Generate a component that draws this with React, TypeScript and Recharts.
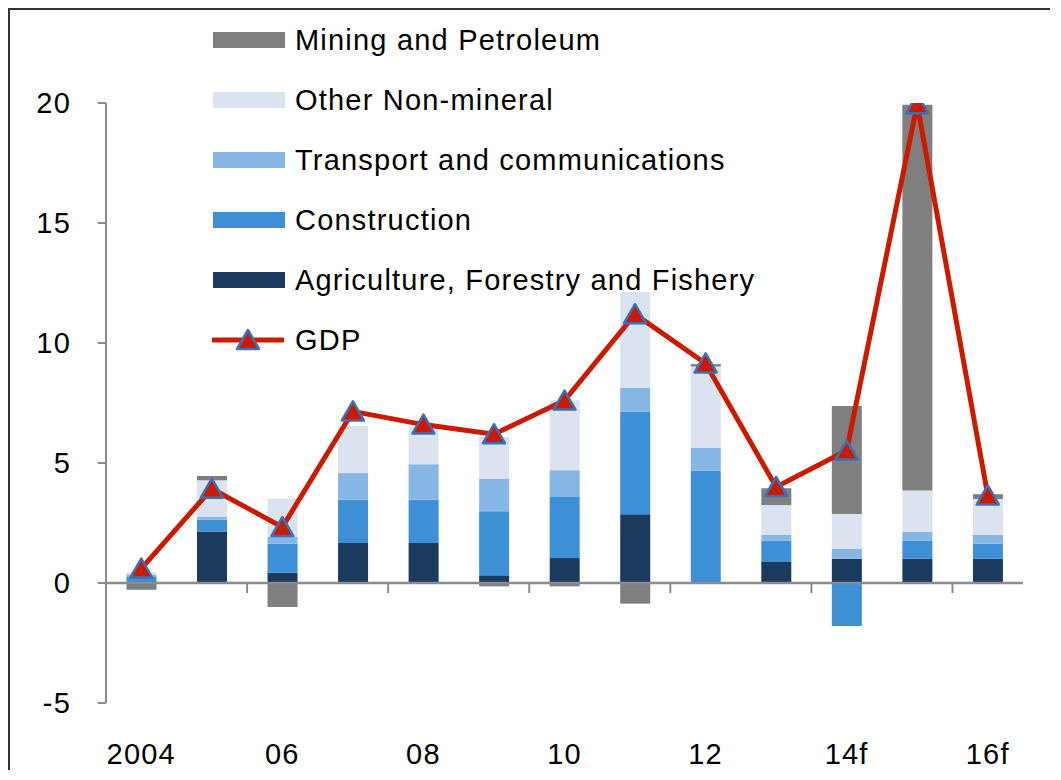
import React from 'react';
import { ComposedChart, Bar, Line, XAxis, YAxis, ReferenceLine, Legend } from 'recharts';

const categories = ['2004', '05', '06', '07', '08', '09', '10', '11', '12', '13', '14f', '15f', '16f'];
const tickLabels = ['2004', '', '06', '', '08', '', '10', '', '12', '', '14f', '', '16f'];
const agriculture = [0, 2.15, 0.43, 1.67, 1.67, 0.32, 1.04, 2.86, 0, 0.9, 1.01, 1.01, 1.01];
const construction = [0.25, 0.49, 1.21, 1.8, 1.8, 2.67, 2.54, 4.27, 4.67, 0.86, -1.79, 0.76, 0.63];
const transport = [0.1, 0.11, 0.28, 1.11, 1.48, 1.34, 1.12, 1.0, 0.97, 0.25, 0.41, 0.36, 0.37];
const otherNonMineral = [0.1, 1.53, 1.6, 1.96, 1.58, 1.75, 2.91, 3.99, 3.38, 1.24, 1.46, 1.72, 1.49];
const mining = [-0.28, 0.18, -1.0, 0, 0, -0.14, -0.14, -0.86, 0.1, 0.7, 4.5, 16.08, 0.2];
const gdp = [0.6, 3.93, 2.33, 7.15, 6.6, 6.2, 7.6, 11.2, 9.15, 4.0, 5.52, 19.95, 3.65];
const yTicks = [-5, 0, 5, 10, 15, 20];
const boundaryTicks = [1.5, 3.5, 5.5, 7.5, 9.5, 11.5];

const COLORS = {
  agriculture: '#1a3a5e',
  construction: '#3d8fd6',
  transport: '#86b6e4',
  other: '#dbe3f0',
  mining: '#7f7f7f',
  gdp: '#cc1a00',
  marker: '#3c6fb4',
  axis: '#8c8c8c',
};

const data = categories.map((c, i) => ({
  cat: c,
  idx: i,
  agriculture: agriculture[i],
  construction: construction[i],
  transport: transport[i],
  other: otherNonMineral[i],
  mining: mining[i],
  gdp: gdp[i],
}));

const legendItems = [
  { name: 'Mining and Petroleum', color: COLORS.mining, kind: 'bar' },
  { name: 'Other Non-mineral', color: COLORS.other, kind: 'bar' },
  { name: 'Transport and communications', color: COLORS.transport, kind: 'bar' },
  { name: 'Construction', color: COLORS.construction, kind: 'bar' },
  { name: 'Agriculture, Forestry and Fishery', color: COLORS.agriculture, kind: 'bar' },
  { name: 'GDP', color: COLORS.gdp, kind: 'line' },
];

const FONT = '"Liberation Sans", Arial, Helvetica, sans-serif';
const tickStyle = { fontFamily: FONT, fontSize: 29, fill: '#000', letterSpacing: 1.2 };

const TriangleDot = (props: any) => {
  const { cx, cy, index } = props;
  if (cx == null || cy == null) return null;
  return (
    <path
      key={`tri-${index}`}
      d={`M${cx},${cy - 10} L${cx + 11},${cy + 9} L${cx - 11},${cy + 9} Z`}
      fill={COLORS.gdp}
      stroke={COLORS.marker}
      strokeWidth={2.5}
      strokeLinejoin="round"
    />
  );
};

const CustomLegend = () => (
  <div style={{ fontFamily: FONT, fontSize: 29, letterSpacing: 1.2, color: '#000' }}>
    {legendItems.map((it) => (
      <div key={it.name} style={{ height: 60, display: 'flex', alignItems: 'center', whiteSpace: 'nowrap' }}>
        <svg width={74} height={24} style={{ display: 'block' }}>
          {it.kind === 'bar' ? (
            <rect x={1} y={4} width={72} height={16} fill={it.color} />
          ) : (
            <g>
              <line x1={0} y1={12} x2={72} y2={12} stroke={it.color} strokeWidth={5} />
              <path d="M36,2 L47,21 L25,21 Z" fill={COLORS.gdp} stroke={COLORS.marker} strokeWidth={2.5} strokeLinejoin="round" />
            </g>
          )}
        </svg>
        <span style={{ marginLeft: 9 }}>{it.name}</span>
      </div>
    ))}
  </div>
);

export default function App() {
  return (
    <div
      style={{
        borderLeft: '2px solid #333',
        borderTop: '2px solid #333',
        width: 1040,
        height: 760,
        position: 'relative',
        background: '#fff',
      }}
    >
      <ComposedChart
        width={1040}
        height={760}
        data={data}
        stackOffset="sign"
        barCategoryGap="29%"
        margin={{ top: 93, right: 27, bottom: 7, left: 36 }}
      >
        <XAxis
          xAxisId="cat"
          dataKey="cat"
          height={60}
          interval={0}
          tickSize={0}
          tickMargin={40}
          axisLine={false}
          tickLine={false}
          tick={tickStyle}
          tickFormatter={(_v: any, i: number) => tickLabels[i]}
        />
        <XAxis xAxisId="num" type="number" dataKey="idx" domain={[-0.5, 12.5]} hide allowDataOverflow />
        <YAxis
          domain={[-5, 20]}
          ticks={yTicks}
          interval={0}
          width={60}
          tickSize={8}
          tickMargin={27}
          allowDataOverflow
          axisLine={{ stroke: COLORS.axis, strokeWidth: 2 }}
          tickLine={{ stroke: COLORS.axis, strokeWidth: 2 }}
          tick={tickStyle}
        />
        <Legend
          layout="vertical"
          align="center"
          verticalAlign="middle"
          wrapperStyle={{ left: 202, top: 0, width: 620 }}
          content={() => <CustomLegend />}
        />
        <Bar xAxisId="cat" dataKey="agriculture" stackId="s" fill={COLORS.agriculture} isAnimationActive={false} />
        <Bar xAxisId="cat" dataKey="construction" stackId="s" fill={COLORS.construction} isAnimationActive={false} />
        <Bar xAxisId="cat" dataKey="transport" stackId="s" fill={COLORS.transport} isAnimationActive={false} />
        <Bar xAxisId="cat" dataKey="other" stackId="s" fill={COLORS.other} isAnimationActive={false} />
        <Bar xAxisId="cat" dataKey="mining" stackId="s" fill={COLORS.mining} isAnimationActive={false} />
        <ReferenceLine xAxisId="num" y={0} stroke={COLORS.axis} strokeWidth={2.5} />
        {boundaryTicks.map((b) => (
          <ReferenceLine
            key={`bt-${b}`}
            xAxisId="num"
            segment={[{ x: b, y: 0 }, { x: b, y: -0.42 }]}
            stroke={COLORS.axis}
            strokeWidth={2}
          />
        ))}
        <Line
          xAxisId="cat"
          dataKey="gdp"
          stroke={COLORS.gdp}
          strokeWidth={5}
          dot={<TriangleDot />}
          activeDot={false}
          isAnimationActive={false}
        />
      </ComposedChart>
    </div>
  );
}
